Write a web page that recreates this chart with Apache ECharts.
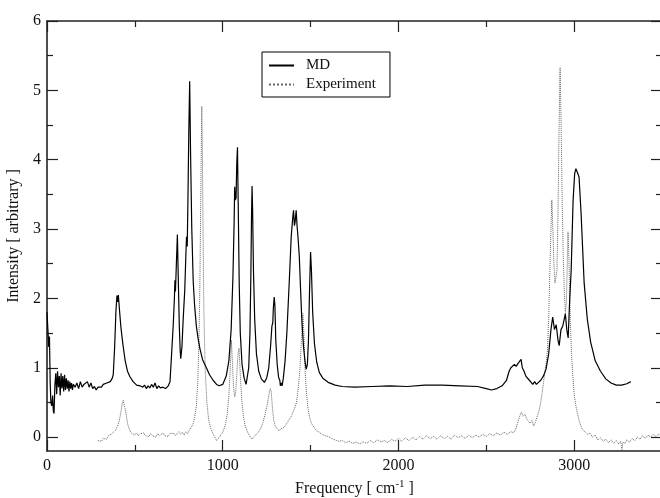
<!DOCTYPE html>
<html>
<head>
<meta charset="utf-8">
<script src="https://cdn.jsdelivr.net/npm/echarts@6/dist/echarts.min.js"></script>
<style>html,body{margin:0;padding:0;background:#fff}#c{width:660px;height:498px}</style>
</head>
<body>
<div id="c"></div>
<script>
var mdFreq = [0,5,10,14,18,22,27,32,36,40,45,50,55,60,65,70,75,80,85,90,95,100,105,110,115,120,125,130,135,140,145,150,160,170,180,190,200,210,220,230,240,250,260,270,280,290,300,310,320,330,340,350,360,370,377,385,392,398,403,406,412,420,428,434,445,458,472,490,510,530,545,555,565,575,585,595,605,615,625,635,645,660,675,690,700,708,718,725,728,731,735,742,747,753,758,761,768,775,784,790,794,798,802,807,812,817,824,832,840,850,860,870,885,907,925,945,965,980,1000,1020,1035,1048,1058,1065,1068,1072,1076,1080,1084,1088,1094,1100,1110,1122,1133,1140,1148,1155,1160,1164,1167,1170,1175,1182,1192,1205,1220,1237,1250,1262,1272,1280,1285,1288,1293,1297,1302,1310,1318,1325,1328,1333,1338,1345,1355,1365,1378,1390,1398,1403,1408,1412,1418,1423,1428,1432,1436,1442,1450,1460,1468,1475,1482,1488,1494,1500,1505,1512,1522,1535,1550,1570,1600,1640,1680,1750,1850,1950,2050,2150,2250,2350,2450,2500,2530,2560,2590,2615,2630,2640,2650,2660,2670,2680,2690,2698,2705,2715,2725,2735,2745,2755,2765,2775,2785,2795,2810,2825,2840,2855,2868,2878,2888,2898,2908,2915,2925,2935,2945,2950,2958,2966,2975,2983,2994,3003,3010,3018,3028,3040,3057,3075,3094,3120,3150,3180,3210,3240,3270,3300,3322];
var mdInt = [1.80,1.55,1.30,1.45,0.80,0.50,0.45,0.60,0.38,0.34,0.75,0.92,0.62,0.95,0.72,0.88,0.60,0.92,0.70,0.88,0.66,0.90,0.68,0.85,0.70,0.82,0.66,0.80,0.70,0.78,0.68,0.76,0.72,0.78,0.70,0.80,0.72,0.76,0.74,0.80,0.72,0.78,0.70,0.73,0.68,0.72,0.74,0.72,0.76,0.74,0.78,0.76,0.80,0.84,0.90,1.30,1.80,2.04,1.95,2.05,1.85,1.60,1.42,1.30,1.10,0.95,0.87,0.80,0.75,0.74,0.72,0.75,0.70,0.74,0.71,0.76,0.72,0.78,0.70,0.74,0.71,0.72,0.70,0.74,0.80,1.15,1.60,2.00,2.26,2.10,2.40,2.92,2.30,1.60,1.25,1.13,1.30,1.70,2.12,2.60,2.89,2.75,3.40,4.40,5.13,4.10,3.00,2.25,1.90,1.60,1.42,1.28,1.12,1.00,0.90,0.82,0.76,0.74,0.76,0.88,1.10,1.55,2.30,3.10,3.61,3.42,3.45,3.95,4.18,3.40,2.20,1.50,1.05,0.85,0.76,0.78,1.00,1.50,2.30,3.20,3.62,3.30,2.40,1.70,1.20,0.95,0.84,0.79,0.85,1.00,1.30,1.60,1.65,1.85,2.02,1.90,1.40,1.05,0.86,0.82,0.74,0.78,0.74,0.85,1.10,1.50,2.20,2.90,3.15,3.27,3.05,3.10,3.27,3.05,2.90,2.75,2.60,2.20,1.70,1.30,1.10,0.98,1.05,1.40,2.10,2.67,2.40,1.80,1.35,1.08,0.93,0.85,0.79,0.75,0.73,0.72,0.73,0.74,0.73,0.75,0.75,0.74,0.73,0.70,0.68,0.70,0.74,0.82,0.95,1.00,0.98,1.05,1.02,1.06,1.05,1.12,1.00,0.95,0.88,0.86,0.82,0.80,0.76,0.80,0.76,0.78,0.82,0.88,0.98,1.20,1.55,1.73,1.55,1.62,1.40,1.32,1.55,1.60,1.72,1.78,1.55,1.43,2.00,2.40,3.41,3.80,3.87,3.82,3.75,3.20,2.22,1.70,1.37,1.10,0.95,0.84,0.78,0.75,0.75,0.77,0.80];

var expFreq = [290,300,310,320,330,340,350,360,370,380,390,400,410,420,428,434,440,446,452,460,470,480,490,500,510,520,530,540,550,560,570,580,590,600,610,620,630,640,650,660,670,680,690,700,710,720,730,740,750,760,770,780,790,800,810,820,830,840,850,858,865,870,875,879,881,884,888,893,900,910,920,932,945,955,965,975,985,995,1005,1015,1025,1035,1042,1049,1055,1062,1068,1074,1080,1087,1093,1100,1108,1118,1128,1140,1153,1165,1175,1185,1195,1205,1215,1228,1240,1252,1262,1270,1276,1282,1290,1300,1310,1320,1330,1340,1350,1360,1370,1380,1390,1400,1410,1420,1430,1440,1448,1456,1462,1468,1476,1486,1494,1505,1520,1535,1550,1565,1580,1600,1620,1640,1660,1680,1700,1720,1740,1760,1780,1800,1820,1840,1860,1880,1900,1920,1940,1960,1980,2000,2020,2040,2060,2080,2100,2120,2140,2160,2180,2200,2220,2240,2260,2280,2300,2320,2340,2360,2380,2400,2420,2440,2460,2480,2500,2520,2540,2560,2580,2600,2620,2640,2655,2668,2680,2690,2700,2710,2720,2730,2740,2750,2760,2770,2780,2790,2800,2810,2820,2830,2840,2848,2855,2862,2868,2873,2879,2885,2891,2896,2902,2908,2914,2920,2926,2932,2938,2944,2950,2955,2960,2965,2970,2978,2985,2992,3000,3010,3019,3030,3045,3060,3075,3090,3105,3120,3135,3150,3165,3180,3195,3210,3225,3240,3255,3265,3272,3278,3290,3300,3315,3330,3345,3360,3375,3390,3405,3420,3435,3450,3465,3480,3495,3500];
var expInt = [-0.05,-0.03,-0.06,-0.02,0.00,-0.03,0.02,0.00,0.05,0.03,0.10,0.15,0.22,0.35,0.48,0.53,0.45,0.40,0.30,0.18,0.10,0.06,0.08,0.03,0.06,0.02,0.05,0.03,0.06,0.02,0.04,0.01,0.05,0.02,0.04,0.00,0.05,0.02,0.03,0.06,0.02,0.04,0.01,0.05,0.03,0.06,0.02,0.05,0.08,0.04,0.07,0.03,0.08,0.05,0.10,0.12,0.18,0.28,0.45,0.80,1.40,2.20,3.40,4.40,4.77,4.20,3.00,1.80,1.00,0.50,0.25,0.12,0.05,0.00,-0.05,-0.02,0.00,0.05,0.10,0.18,0.32,0.60,0.95,1.40,1.10,0.70,0.58,0.65,0.90,1.20,1.28,0.90,0.55,0.30,0.16,0.08,0.02,-0.03,0.00,0.02,0.05,0.08,0.12,0.20,0.32,0.45,0.60,0.70,0.66,0.45,0.25,0.15,0.12,0.09,0.12,0.10,0.14,0.18,0.22,0.26,0.30,0.36,0.42,0.50,0.70,1.00,1.40,1.78,1.50,1.00,0.65,0.40,0.29,0.20,0.14,0.09,0.07,0.04,0.02,0.01,-0.02,-0.04,-0.06,-0.05,-0.08,-0.06,-0.09,-0.07,-0.10,-0.07,-0.09,-0.05,-0.08,-0.04,-0.07,-0.05,-0.08,-0.03,-0.06,-0.02,-0.06,-0.01,-0.05,0.00,-0.04,0.01,-0.03,0.02,-0.02,0.01,-0.03,0.02,-0.02,0.01,-0.03,0.03,-0.01,0.02,-0.02,0.03,-0.01,0.03,0.00,0.04,0.01,0.05,0.02,0.06,0.03,0.07,0.04,0.08,0.06,0.12,0.22,0.30,0.36,0.30,0.33,0.26,0.28,0.20,0.24,0.16,0.22,0.30,0.38,0.50,0.68,0.87,1.05,1.25,1.70,2.40,3.00,3.42,3.00,2.50,2.22,2.30,2.40,3.20,4.40,5.33,4.50,3.40,2.60,2.10,1.80,1.90,2.40,2.96,2.60,1.70,1.20,0.90,0.62,0.45,0.34,0.22,0.12,0.08,0.04,0.06,0.00,0.03,-0.04,-0.01,-0.06,-0.03,-0.08,-0.04,-0.09,-0.05,-0.10,-0.06,-0.18,-0.07,-0.09,-0.04,-0.07,-0.02,-0.05,0.00,-0.03,0.02,-0.02,0.03,0.00,0.04,0.01,0.04,0.02,0.03];

var xMajor = [0,1000,2000,3000];
var yMajor = [0,1,2,3,4,5,6];
var yMinor = [0.5,1.5,2.5,3.5,4.5,5.5];

function zip(a,b){var r=[];for(var i=0;i<a.length;i++)r.push([a[i],b[i]]);return r;}

var FONT = '"Liberation Serif","Times New Roman",serif';
var AX = '#222';
var chart = echarts.init(document.getElementById('c'), null, {renderer:'canvas'});

function yAx(pos, custom, len, labels, line){
  return {
    type:'value', position:pos, min:-0.2, max:6,
    axisLine:{show:line, lineStyle:{color:AX, width:1.6}},
    axisTick:{show:true, inside:true, length:len, customValues:custom, lineStyle:{color:AX, width:1.2}},
    axisLabel:{show:labels, customValues:custom, color:'#111', fontFamily:FONT, fontSize:16, margin:6},
    splitLine:{show:false}
  };
}

var option = {
  animation:false,
  backgroundColor:'#fff',
  grid:{left:47, top:21, width:615, height:430, containLabel:false, outerBoundsMode:'none'},
  legend:{
    orient:'vertical', left:262, top:52,
    data:['MD','Experiment'],
    borderColor:'#000', borderWidth:1,
    padding:[6,14,5,6], itemGap:4, itemWidth:25, itemHeight:14,
    itemStyle:{color:'rgba(0,0,0,0)', borderWidth:0, opacity:0},
    textStyle:{fontFamily:FONT, fontSize:15, color:'#111', padding:[0,0,0,7]}
  },
  xAxis:[
    {type:'value', position:'bottom', min:0, max:3500, interval:1000,
     name:'Frequency [ cm{sup|-1} ]', nameLocation:'middle', nameGap:28,
     nameTextStyle:{fontFamily:FONT, fontSize:16, color:'#111',
       rich:{sup:{fontFamily:FONT, fontSize:11, color:'#111', verticalAlign:'top', padding:[0,0,8,0]}}},
     axisLine:{onZero:false, lineStyle:{color:AX, width:1.6}},
     axisTick:{inside:true, length:11, lineStyle:{color:AX, width:1.2}},
     minorTick:{show:true, splitNumber:2, length:6, lineStyle:{color:AX, width:1.2}},
     axisLabel:{color:'#111', fontFamily:FONT, fontSize:16, margin:7, customValues:xMajor,
       formatter:function(v){return String(v);}},
     splitLine:{show:false}, minorSplitLine:{show:false}},
    {type:'value', position:'top', min:0, max:3500, interval:1000,
     axisLine:{onZero:false, lineStyle:{color:AX, width:1.6}},
     axisTick:{inside:true, length:11, lineStyle:{color:AX, width:1.2}},
     minorTick:{show:true, splitNumber:2, length:6, lineStyle:{color:AX, width:1.2}},
     axisLabel:{show:false}, splitLine:{show:false}, minorSplitLine:{show:false}}
  ],
  yAxis:[
    Object.assign(yAx('left', yMajor, 11, true, true), {
      name:'Intensity [ arbitrary ]', nameLocation:'middle', nameGap:18,
      nameTextStyle:{fontFamily:FONT, fontSize:16, color:'#111'}}),
    yAx('left', yMinor, 6, false, false),
    yAx('right', yMajor, 11, false, true),
    yAx('right', yMinor, 6, false, false)
  ],
  series:[
    {name:'MD', type:'line', xAxisIndex:0, yAxisIndex:0, data:zip(mdFreq, mdInt),
     symbol:'none', lineStyle:{color:'#000', width:1.2}, itemStyle:{color:'#000'}, z:3},
    {name:'Experiment', type:'line', xAxisIndex:0, yAxisIndex:0, data:zip(expFreq, expInt),
     symbol:'none', lineStyle:{color:'#666', width:1, type:'dotted'}, itemStyle:{color:'#666'}, z:2}
  ]
};
chart.setOption(option);
</script>
</body>
</html>
